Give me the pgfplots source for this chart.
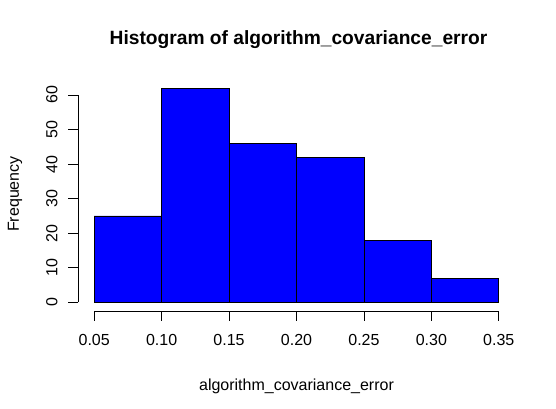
\documentclass[border=0pt]{standalone}
\usepackage{pgfplots}
\pgfplotsset{compat=1.18}
\usepackage{fontspec}
\setmainfont{Liberation Sans}
\pgfplotstableread{
x y
0.05 25
0.10 62
0.15 46
0.20 42
0.25 18
0.30 7
0.35 7
}\histdata
\begin{document}
\begin{tikzpicture}
\begin{axis}[
  at={(0,0)}, anchor=south west,
  scale only axis, width=437bp, height=231.5bp,
  xmin=0.038, xmax=0.362, ymin=-2.48, ymax=64.48,
  axis x line*=bottom, axis y line*=left,
  axis line style={draw=none},
  tick align=outside, major tick length=9.6bp,
  tick style={black, line width=0.75bp},
  xtick={0.05,0.10,0.15,0.20,0.25,0.30,0.35},
  ytick={0,10,20,30,40,50,60},
  minor tick num=0,
  /pgf/number format/assume math mode=true,
  xticklabel style={/pgf/number format/.cd, fixed, fixed zerofill, precision=2},
  xticklabel shift=10.1bp,
  yticklabel shift=7.4bp,
  yticklabel style={rotate=90, anchor=south},
  ticklabel style={font=\fontsize{16bp}{19bp}\selectfont},
  clip=false,
]
\addplot[ybar interval, fill={rgb,255:red,0;green,0;blue,255}, draw=none]
  table[x=x,y=y] {\histdata};
\addplot[ybar interval, fill=none, draw=black, line width=0.75bp]
  table[x=x,y=y] {\histdata};
\draw[black, line width=0.75bp] (axis cs:0.05,-2.48) -- (axis cs:0.35,-2.48);
\draw[black, line width=0.75bp] (axis cs:0.038,0) -- (axis cs:0.038,60);
\end{axis}
\node[font=\fontsize{19.2bp}{23bp}\selectfont\bfseries] at (220.5bp,271bp) {Histogram of algorithm\_covariance\_error};
\node[font=\fontsize{16bp}{19bp}\selectfont] at (218.5bp,-75bp) {algorithm\_covariance\_error};
\node[font=\fontsize{16bp}{19bp}\selectfont, rotate=90] at (-63bp,117bp) {Frequency};
\pgfresetboundingbox
\path[use as bounding box] (-78bp,-98bp) rectangle (478bp,311bp);
\end{tikzpicture}
\end{document}
